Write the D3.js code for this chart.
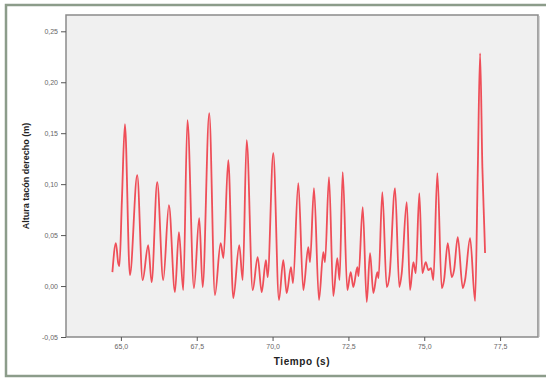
<!DOCTYPE html>
<html><head><meta charset="utf-8">
<script src="https://cdn.jsdelivr.net/npm/d3@7"></script>
<style>
html,body{margin:0;padding:0;background:#fff;}
svg{display:block;}
</style></head>
<body>
<svg id="chart" width="546" height="378"></svg>
<script>
// Data (time in s, heel height in m)
const timeS = [64.72,64.835,64.911,64.951,65.033,65.132,65.297,65.538,65.716,65.900,66.013,66.197,66.395,66.583,66.781,66.913,67.055,67.193,67.408,67.582,67.695,67.912,68.100,68.288,68.381,68.539,68.704,68.902,69.014,69.146,69.344,69.509,69.641,69.782,69.838,70.023,70.211,70.353,70.465,70.607,70.673,70.848,71.013,71.177,71.234,71.365,71.530,71.672,71.728,71.860,72.002,72.134,72.207,72.312,72.464,72.576,72.662,72.794,72.833,72.972,73.104,73.213,73.321,73.453,73.493,73.618,73.763,73.856,74.037,74.179,74.258,74.423,74.532,74.641,74.720,74.838,74.937,75.050,75.135,75.224,75.300,75.432,75.577,75.653,75.775,75.907,75.983,76.105,76.270,76.346,76.511,76.676,76.765,76.841,76.916,76.982,77.005];
const heightM = [0.0137,0.0422,0.0225,0.0196,0.0843,0.1588,0.0108,0.1088,0.0059,0.0402,0.0039,0.1020,0.0059,0.0794,-0.0059,0.0529,-0.0039,0.1627,-0.0020,0.0667,-0.0010,0.1696,-0.0088,0.0422,0.0275,0.1235,-0.0118,0.0402,0.0059,0.1431,-0.0039,0.0284,-0.0059,0.0255,0.0088,0.1304,-0.0137,0.0255,-0.0069,0.0186,0.0029,0.1010,-0.0039,0.0382,0.0235,0.0961,-0.0137,0.0333,0.0235,0.1069,-0.0098,0.0275,0.0059,0.1118,-0.0039,0.0137,-0.0010,0.0186,0.0098,0.0775,-0.0157,0.0324,-0.0069,0.0137,0.0078,0.0922,-0.0010,0.0108,0.0961,-0.0010,0.0127,0.0824,-0.0039,0.0235,0.0127,0.0912,0.0127,0.0235,0.0157,0.0176,0.0059,0.1108,-0.0020,0.0059,0.0422,0.0088,0.0157,0.0480,-0.0020,0.0059,0.0471,-0.0147,0.1137,0.2284,0.1167,0.0549,0.0324];
const xTicks = [65.0, 67.5, 70.0, 72.5, 75.0, 77.5];
const yTicks = [-0.05, 0.00, 0.05, 0.10, 0.15, 0.20, 0.25];
const xTitle = "Tiempo (s)";
const yTitle = "Altura tacón derecho (m)";

const svg = d3.select("#chart");
const plot = {left: 66, top: 15, right: 538, bottom: 337};

// outer border
svg.append("rect").attr("x", 6).attr("y", 5).attr("width", 560).attr("height", 371)
  .attr("fill", "#fff").attr("stroke", "#8c9c8a").attr("stroke-width", 2.5);

const loc = d3.formatLocale({decimal: ",", thousands: ".", grouping: [3], currency: ["", "€"], minus: "-"});
const fx = loc.format(".1f"), fy = loc.format(".2f");

const x = d3.scaleLinear().domain([63.19, 78.75]).range([plot.left, plot.right]);
const y = d3.scaleLinear().domain([-0.05, 0.266]).range([plot.bottom, plot.top]);

// plot background
svg.append("rect").attr("x", plot.left).attr("y", plot.top)
  .attr("width", plot.right - plot.left).attr("height", plot.bottom - plot.top)
  .attr("fill", "#f0f0f0").attr("stroke", "#8a8a8a").attr("stroke-width", 1.5);
svg.append("line").attr("x1", plot.right + 1).attr("x2", plot.right + 1)
  .attr("y1", plot.top + 1).attr("y2", plot.bottom).attr("stroke", "#b0b0b0").attr("stroke-width", 1);

// axes
const xAxis = d3.axisBottom(x).tickValues(xTicks).tickFormat(fx).tickSize(4).tickPadding(3);
const gx = svg.append("g").attr("transform", `translate(0,${plot.bottom})`).call(xAxis);
const yAxis = d3.axisLeft(y).tickValues(yTicks).tickFormat(fy).tickSize(5).tickPadding(3);
const gy = svg.append("g").attr("transform", `translate(${plot.left},0)`).call(yAxis);
[gx, gy].forEach(g => {
  g.select(".domain").remove();
  g.selectAll(".tick line").attr("stroke", "#555").attr("stroke-width", 1);
  g.selectAll(".tick text").attr("fill", "#666").attr("font-family", "Liberation Sans, Arial, sans-serif")
   .attr("font-size", 7);
});

// line
const data = timeS.map((t, i) => ({t, v: heightM[i]}));
const line = d3.line().x(d => x(d.t)).y(d => y(d.v)).curve(d3.curveMonotoneX);
svg.append("path").datum(data).attr("d", line)
  .attr("fill", "none").attr("stroke", "#ee2a36").attr("stroke-width", 1.8)
  .attr("stroke-opacity", 0.82).attr("stroke-linejoin", "round");

// titles
svg.append("text").attr("x", (plot.left + plot.right) / 2).attr("y", 365)
  .attr("text-anchor", "middle").attr("font-family", "Liberation Sans, Arial, sans-serif")
  .attr("font-weight", "bold").attr("font-size", 10).attr("letter-spacing", 0.6).attr("fill", "#222").text(xTitle);
svg.append("text").attr("transform", `translate(29,${(plot.top + plot.bottom) / 2}) rotate(-90)`)
  .attr("text-anchor", "middle").attr("font-family", "Liberation Sans, Arial, sans-serif")
  .attr("font-weight", "bold").attr("font-size", 9).attr("fill", "#222").text(yTitle);
</script>
</body></html>
